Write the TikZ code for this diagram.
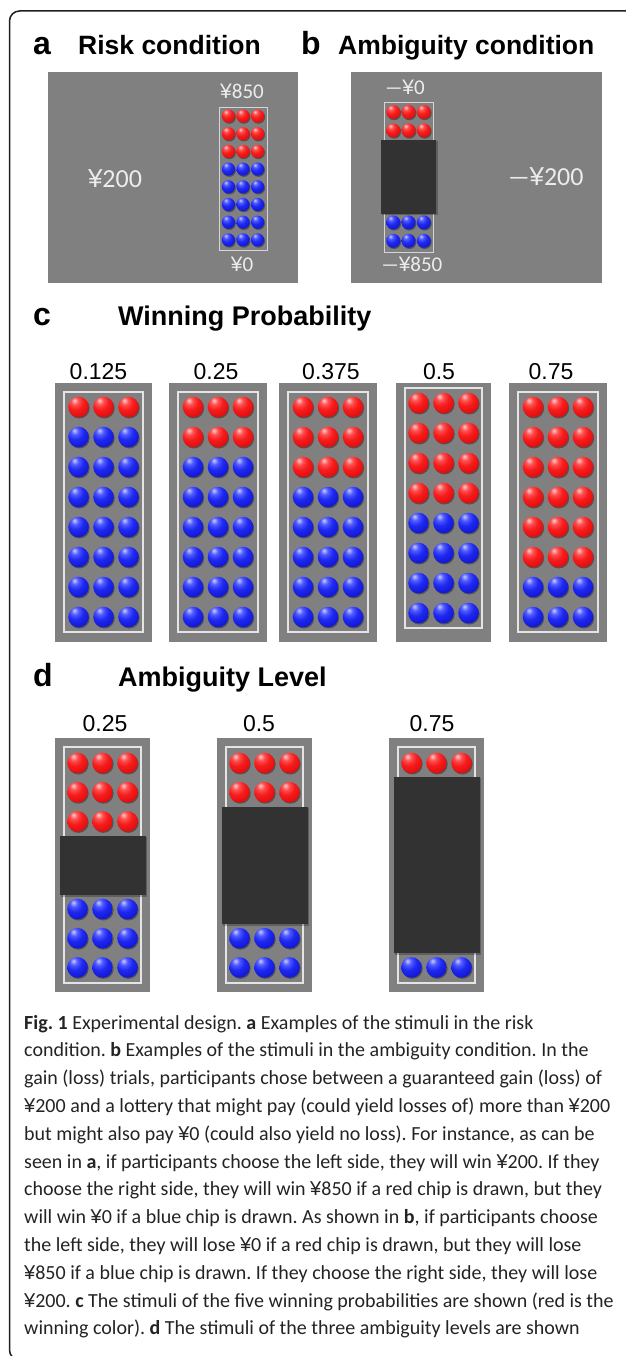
\documentclass[tikz,border=0pt]{standalone}
\usepackage{fontspec}
\setmainfont{Liberation Sans}
\newfontfamily\capfont{Carlito}
\newfontfamily\valfont{Carlito}
\newfontfamily\yenfont{Liberation Sans}

\definecolor{chipbg}{RGB}{128,128,128}
\definecolor{coverdark}{RGB}{50,50,50}
\definecolor{rimlight}{RGB}{228,228,228}
\definecolor{valtext}{RGB}{236,236,236}
\definecolor{framecol}{RGB}{30,30,30}
\definecolor{captext}{RGB}{35,35,35}

\definecolor{rA}{RGB}{255,205,205}
\definecolor{rB}{RGB}{255,80,80}
\definecolor{rC}{RGB}{246,28,28}
\definecolor{rD}{RGB}{222,10,10}
\definecolor{rE}{RGB}{160,0,0}
\definecolor{bA}{RGB}{200,205,255}
\definecolor{bB}{RGB}{80,90,255}
\definecolor{bC}{RGB}{30,40,240}
\definecolor{bD}{RGB}{15,20,205}
\definecolor{bE}{RGB}{5,5,130}

\pgfdeclareradialshading{redchip}{\pgfpoint{-10bp}{16bp}}{%
  color(0bp)=(rA); color(9bp)=(rB); color(20bp)=(rC);
  color(38bp)=(rD); color(50bp)=(rE); color(100bp)=(rE)}
\pgfdeclareradialshading{bluechip}{\pgfpoint{-10bp}{16bp}}{%
  color(0bp)=(bA); color(9bp)=(bB); color(20bp)=(bC);
  color(38bp)=(bD); color(50bp)=(bE); color(100bp)=(bE)}

% one chip: x, y, radius (pt), shading
\newcommand\chipdraw[4]{%
  \pgfmathsetmacro\chipx{#1}%
  \pgfmathsetmacro\chipy{#2}%
  \fill[black,opacity=0.35] ({\chipx+0.9},{\chipy+1.2}) circle (#3pt);
  \shade[shading=#4] (\chipx,\chipy) circle (#3pt);}

% full-height yen sign and the long minus sign of the loss amounts
\newcommand\yen{{\yenfont ¥}}
\newcommand\lossdash{\scalebox{0.9}[1]{—}}

\newlength\capw

\begin{document}
\frenchspacing
% caption size: the widest line spans 586pt
\settowidth\capw{\capfont\fontsize{10pt}{12pt}\selectfont \yen200 and a lottery that might pay (could yield losses of) more than \yen200}%
\pgfmathsetmacro\capsize{10*586/\capw}%
\begin{tikzpicture}[x=1pt,y=-1pt,
  boxbg/.style={fill=chipbg},
  rimline/.style={draw=rimlight,line width=1.1pt},
  thinrim/.style={draw=rimlight!85!chipbg,line width=0.9pt},
  coverbox/.style={fill=coverdark},
  coveredge/.style={fill=black,opacity=0.25},
  lettr/.style={font=\fontsize{32}{32}\selectfont\bfseries,anchor=base west,inner sep=0},
  ttl/.style={font=\fontsize{26.5}{30}\selectfont\bfseries,anchor=base west,inner sep=0},
  numlab/.style={font=\fontsize{23}{26}\selectfont,anchor=base,inner sep=0},
  valsmall/.style={font=\valfont\fontsize{21}{24}\selectfont,text=valtext,anchor=base,inner sep=0},
  valbig/.style={font=\valfont\fontsize{26}{29}\selectfont,text=valtext,anchor=base,inner sep=0},
  capline/.style={font=\capfont\fontsize{\capsize}{20}\selectfont\frenchspacing,text=captext,anchor=base west,inner sep=0}]

\useasboundingbox (0,0) rectangle (625,1356);

% outer frame, open to the right and below
\draw[framecol,line width=1.5pt,rounded corners=10pt]
  (640,11) -- (9.5,11) -- (9.5,1360) -- (40,1360);

% ---------- a: risk condition ----------
\node[lettr] (la) at (33,55) {a};
\node[ttl] (ta) at (78,55) {Risk condition};
\fill[boxbg] (48,72) rectangle (298,283);
\draw[thinrim] (219,107) rectangle (267,250);
\foreach \r in {0,...,7}{
  \foreach \k in {0,1,2}{
    \ifnum\r<3 \def\sh{redchip}\else\def\sh{bluechip}\fi
    \chipdraw{243+14.6*(\k-1)}{116+17.7*\r}{6.6}{\sh}
  }
}
\node[valsmall] (a850) at (242,99) {\yen850};
\node[valbig] (a200) at (115,188) {\yen200};
\node[valsmall] (a0) at (242,272) {\yen0};

% ---------- b: ambiguity condition ----------
\node[lettr] (lb) at (301,55) {b};
\node[ttl] (tb) at (338,55) {Ambiguity condition};
\fill[boxbg] (351,72) rectangle (602,283);
\draw[thinrim] (384,102) rectangle (433,252);
\foreach \r in {0,1,6,7}{
  \foreach \k in {0,1,2}{
    \ifnum\r<2 \def\sh{redchip}\else\def\sh{bluechip}\fi
    \chipdraw{408.5+15.3*(\k-1)}{112+18.4*\r}{7}{\sh}
  }
}
\fill[coveredge] (382,141) rectangle (437.5,215.5);
\fill[coverbox] (381,140) rectangle (436,214);
\node[valsmall] (b0) at (405,95) {\lossdash\yen0};
\node[valbig] (b200) at (546,186) {\lossdash\yen200};
\node[valsmall] (b850) at (412,272) {\lossdash\yen850};

% ---------- c: winning probability ----------
\node[lettr] (lc) at (33,325) {c};
\node[ttl,font=\fontsize{27}{30}\selectfont\bfseries] (tc) at (118,325) {Winning Probability};
\foreach \L/\W/\nr/\ty/\lx/\lab [count=\i] in
  {55/97/1/407/98.5/0.125, 169/98/2/407/216/0.25, 279/98/3/407/331/0.375,
   396/95/4/403/439/0.5, 509/98/6/407/551/0.75}{
  \fill[boxbg] (\L,383) rectangle ({\L+\W},642);
  \draw[rimline] ({\L+9},{\ty-15}) rectangle ({\L+\W-9},{\ty+225});
  \node[numlab] (cl\i) at (\lx,379) {\lab};
  \foreach \r in {0,...,7}{
    \foreach \k in {0,1,2}{
      \ifnum\r<\nr \def\sh{redchip}\else\def\sh{bluechip}\fi
      \chipdraw{\L+\W/2+25*(\k-1)}{\ty+30*\r}{10.3}{\sh}
    }
  }
}

% ---------- d: ambiguity level ----------
\node[lettr] (ld) at (33,686) {d};
\node[ttl,font=\fontsize{27}{30}\selectfont\bfseries] (td) at (118,686) {Ambiguity Level};
\foreach \L/\nr/\nb/\ct/\cb/\lx/\lab [count=\i] in
  {55/3/3/836/895/105/0.25, 217/2/2/807/924/259/0.5, 389/1/1/777/953/432/0.75}{
  \fill[boxbg] (\L,738) rectangle ({\L+95},992);
  \draw[rimline] ({\L+9},747) rectangle ({\L+86},983);
  \node[numlab] (dl\i) at (\lx,731) {\lab};
  \pgfmathtruncatemacro\firstblue{8-\nb}
  \foreach \r in {0,...,7}{
    \foreach \k in {0,1,2}{
      \ifnum\r<\nr
        \chipdraw{\L+47.5+25*(\k-1)}{763+29.2*\r}{10.3}{redchip}
      \else\ifnum\r<\firstblue\else
        \chipdraw{\L+47.5+25*(\k-1)}{763+29.2*\r}{10.3}{bluechip}
      \fi\fi
    }
  }
  \fill[coveredge] ({\L+5.5},{\ct+1}) rectangle ({\L+92},{\cb+1.5});
  \fill[coverbox] ({\L+4.5},\ct) rectangle ({\L+90.5},\cb);
}

% ---------- caption ----------
\def\capx{24}
\node[capline] (cap1) at (\capx,1029.0) {\textbf{Fig. 1} Experimental design. \textbf{a} Examples of the stimuli in the risk};
\node[capline] (cap2) at (\capx,1056.8) {condition. \textbf{b} Examples of the stimuli in the ambiguity condition. In the};
\node[capline] (cap3) at (\capx,1084.6) {gain (loss) trials, participants chose between a guaranteed gain (loss) of};
\node[capline] (cap4) at (\capx,1112.4) {\yen200 and a lottery that might pay (could yield losses of) more than \yen200};
\node[capline] (cap5) at (\capx,1140.2) {but might also pay \yen0 (could also yield no loss). For instance, as can be};
\node[capline] (cap6) at (\capx,1168.0) {seen in \textbf{a}, if participants choose the left side, they will win \yen200. If they};
\node[capline] (cap7) at (\capx,1195.8) {choose the right side, they will win \yen850 if a red chip is drawn, but they};
\node[capline] (cap8) at (\capx,1223.6) {will win \yen0 if a blue chip is drawn. As shown in \textbf{b}, if participants choose};
\node[capline] (cap9) at (\capx,1251.4) {the left side, they will lose \yen0 if a red chip is drawn, but they will lose};
\node[capline] (cap10) at (\capx,1279.2) {\yen850 if a blue chip is drawn. If they choose the right side, they will lose};
\node[capline] (cap11) at (\capx,1307.0) {\yen200. \textbf{c} The stimuli of the five winning probabilities are shown (red is the};
\node[capline] (cap12) at (\capx,1334.8) {winning color). \textbf{d} The stimuli of the three ambiguity levels are shown};
\end{tikzpicture}
\end{document}
